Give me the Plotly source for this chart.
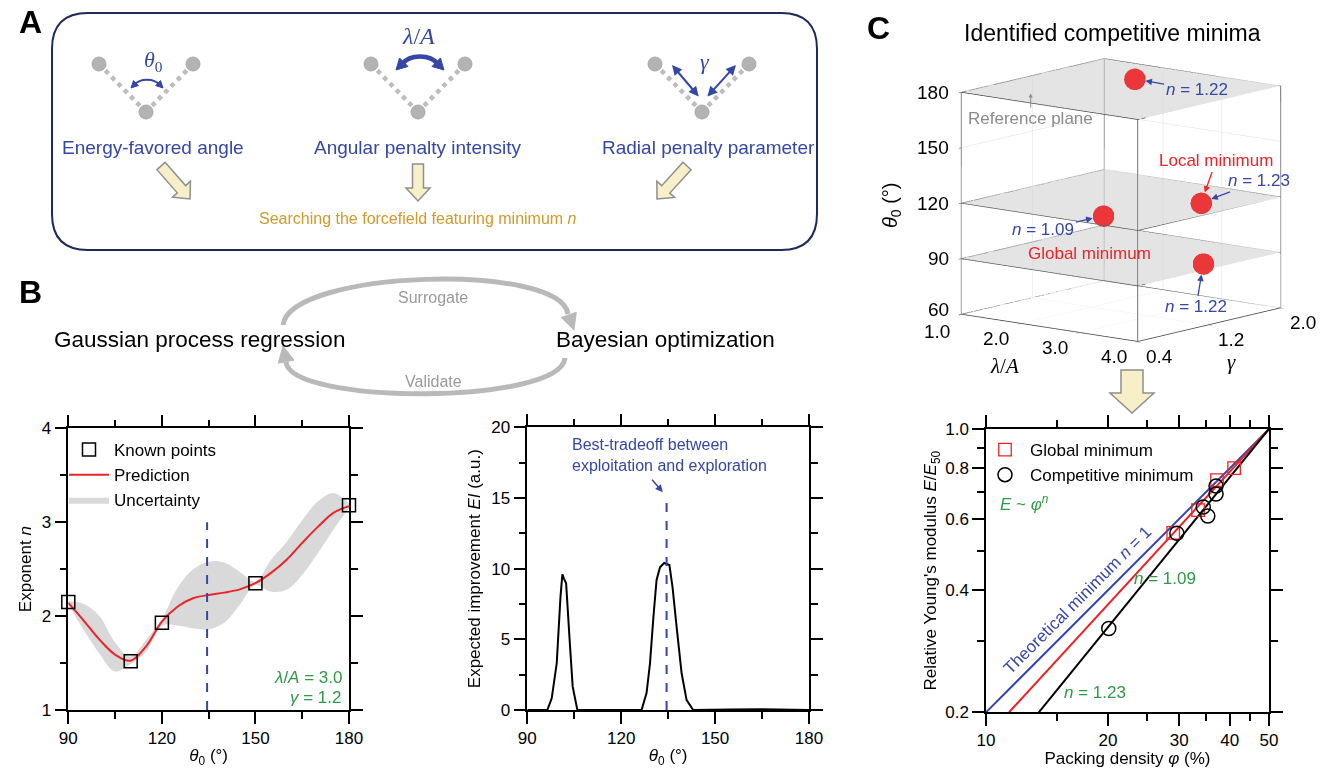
import math
import plotly.graph_objects as go

W, H = 1322, 768
FONT = "Liberation Sans, Arial, Helvetica, sans-serif"
SERIF = "Liberation Serif, DejaVu Serif, serif"
BLUE = "#3547a6"
GREEN = "#2f9a46"
RED = "#ec2327"
GOLD = "#d09a2c"
GREY = "#b9b9b9"
NAVY = "#1f2a5c"

# ---------------- data: panel B (left, GPR) ----------------
theta_known = [90, 110, 120, 150, 180]
n_known = [2.15, 1.52, 1.93, 2.35, 3.18]
theta_grid = [90, 95, 100, 105, 110, 115, 120, 125, 130, 135, 140, 145, 150, 155, 160, 165, 170, 175, 180]
n_pred = [2.14, 1.95, 1.75, 1.59, 1.525, 1.68, 1.94, 2.10, 2.19, 2.225, 2.25, 2.285, 2.35, 2.46, 2.60, 2.78, 2.95, 3.10, 3.17]
n_upper = [2.16, 2.13, 2.00, 1.72, 1.57, 1.75, 1.97, 2.30, 2.50, 2.58, 2.57, 2.47, 2.37, 2.60, 2.79, 3.02, 3.22, 3.31, 3.20]
n_lower = [2.12, 1.85, 1.60, 1.41, 1.49, 1.62, 1.90, 1.90, 1.87, 1.86, 1.93, 2.12, 2.33, 2.26, 2.28, 2.44, 2.67, 2.92, 3.15]
theta_next = 134.5
n_dash_top = 3.0

# ---------------- data: panel B (right, EI) ----------------
theta_ei = [90, 96.4, 97.8, 99.4, 100.6, 101.2, 101.7, 102.4, 103.6, 104.5, 106, 126.5, 128.1, 129.2, 130.3,
            131.3, 132.4, 133.7, 135.4, 136.4, 137.7, 139.3, 140.9, 143, 155, 165, 180]
ei = [0, 0, 0.83, 3.3, 8.0, 9.6, 9.3, 8.96, 4.7, 1.65, 0, 0, 1.2, 3.3, 6.6,
      9.2, 10.1, 10.4, 10.26, 8.7, 5.9, 2.6, 0.7, 0, 0.03, 0.05, 0]
ei_dash_top = 15

# ---------------- data: panel C (3D minima) ----------------
lam_min = [2.2, 3.45, 2.2, 3.7]
gam_min = [1.55, 1.47, 1.2, 1.33]
th_min = [180, 120, 110, 90]
n_min = [1.22, 1.23, 1.09, 1.22]
plane_levels = [90, 120, 180]
lam_rng = [1, 4]
gam_rng = [0.4, 2.0]
th_rng = [60, 180]
lam_ticks = [1, 2, 3, 4]
lam_ticktext = ["1.0", "2.0", "3.0", "4.0"]
gam_ticks = [0.4, 1.2, 2.0]
gam_ticktext = ["0.4", "1.2", "2.0"]
th_ticks = [60, 90, 120, 150, 180]

# ---------------- data: panel C (scaling) ----------------
phi_global = [29.0, 33.4, 37.2, 41.0]
E_global = [0.554, 0.631, 0.748, 0.801]
phi_comp = [20.1, 29.6, 34.4, 35.3, 37.0, 37.0]
E_comp = [0.322, 0.553, 0.642, 0.610, 0.691, 0.723]
fit_E = [0.2, 1.0]
fit_phi_n1 = [10.0, 50.0]
fit_phi_n109 = [11.4, 50.0]
fit_phi_n123 = [13.5, 50.0]


def X(px):
    return px / W


def Y(py):
    return 1 - py / H


def path(pts, close=False):
    s = "M %.5f,%.5f" % (X(pts[0][0]), Y(pts[0][1]))
    for p in pts[1:]:
        s += " L %.5f,%.5f" % (X(p[0]), Y(p[1]))
    if close:
        s += " Z"
    return s


def cubic(p0, c1, c2, p1):
    return "M %.5f,%.5f C %.5f,%.5f %.5f,%.5f %.5f,%.5f" % (
        X(p0[0]), Y(p0[1]), X(c1[0]), Y(c1[1]), X(c2[0]), Y(c2[1]), X(p1[0]), Y(p1[1]))


def head(tip, dx, dy, L, Wd):
    n = math.hypot(dx, dy)
    ux, uy = dx / n, dy / n
    bx, by = tip[0] - ux * L, tip[1] - uy * L
    px, py = -uy, ux
    return path([tip, (bx + px * Wd / 2, by + py * Wd / 2), (bx - px * Wd / 2, by - py * Wd / 2)], close=True)


def block_arrow(x0, y0, x1, y1, sw, hw, hl):
    dx, dy = x1 - x0, y1 - y0
    L = math.hypot(dx, dy)
    ux, uy = dx / L, dy / L
    px, py = -uy, ux
    bx, by = x1 - ux * hl, y1 - uy * hl
    pts = [(x0 + px * sw / 2, y0 + py * sw / 2), (bx + px * sw / 2, by + py * sw / 2),
           (bx + px * hw / 2, by + py * hw / 2), (x1, y1),
           (bx - px * hw / 2, by - py * hw / 2), (bx - px * sw / 2, by - py * sw / 2),
           (x0 - px * sw / 2, y0 - py * sw / 2)]
    return path(pts, close=True)


shapes = []
annots = []


def txt(x, y, s, size=17, color="black", family=FONT, xanchor="center", yanchor="middle", angle=0, **kw):
    annots.append(dict(x=X(x), y=Y(y), xref="paper", yref="paper", text=s, showarrow=False,
                       font=dict(size=size, color=color, family=family), xanchor=xanchor, yanchor=yanchor,
                       textangle=angle, **kw))


def pshape(p, fill=None, line="black", width=1.5):
    d = dict(type="path", path=p, xref="paper", yref="paper", line=dict(color=line, width=width))
    if fill:
        d["fillcolor"] = fill
    shapes.append(d)


# ---------------- panel A ----------------
txt(30, 22, "<b>A</b>", size=32)
r = 36
bx0, by0, bx1, by1 = 52, 13, 817, 250
box = ("M %.5f,%.5f L %.5f,%.5f Q %.5f,%.5f %.5f,%.5f L %.5f,%.5f Q %.5f,%.5f %.5f,%.5f "
       "L %.5f,%.5f Q %.5f,%.5f %.5f,%.5f L %.5f,%.5f Q %.5f,%.5f %.5f,%.5f Z") % (
    X(bx0 + r), Y(by0), X(bx1 - r), Y(by0), X(bx1), Y(by0), X(bx1), Y(by0 + r),
    X(bx1), Y(by1 - r), X(bx1), Y(by1), X(bx1 - r), Y(by1),
    X(bx0 + r), Y(by1), X(bx0), Y(by1), X(bx0), Y(by1 - r),
    X(bx0), Y(by0 + r), X(bx0), Y(by0), X(bx0 + r), Y(by0))
pshape(box, line=NAVY, width=2)

for cx in [146, 418, 702]:
    for (ax_, ay_) in [(cx - 47, 64), (cx + 47, 64)]:
        shapes.append(dict(type="line", xref="paper", yref="paper", x0=X(ax_), y0=Y(ay_), x1=X(cx), y1=Y(112),
                           line=dict(color="#bdbdbd", width=4.5, dash="dot")))
    for (ax_, ay_) in [(cx - 47, 64), (cx + 47, 64), (cx, 112)]:
        shapes.append(dict(type="circle", xref="paper", yref="paper", x0=X(ax_ - 7), x1=X(ax_ + 7),
                           y0=Y(ay_ + 7), y1=Y(ay_ - 7), fillcolor="#b3b3b3", line=dict(color="#a8a8a8", width=1)))

# icon 1: theta0 double curved arrow
pshape(cubic((134, 85), (140, 78), (154, 78), (160, 85)), line=BLUE, width=2)
pshape(head((131, 88), -0.7, 0.7, 7, 7), fill=BLUE, line=BLUE, width=1)
pshape(head((163, 88), 0.7, 0.7, 7, 7), fill=BLUE, line=BLUE, width=1)
txt(153, 61, "<i>θ</i><sub>0</sub>", size=22, color=BLUE, family=SERIF)
# icon 2: lambda/A thick arrow
pshape(cubic((402, 64), (410, 54), (430, 54), (438, 64)), line=BLUE, width=4.5)
pshape(head((396, 70), -0.7, 0.7, 11, 12), fill=BLUE, line=BLUE, width=1)
pshape(head((444, 70), 0.7, 0.7, 11, 12), fill=BLUE, line=BLUE, width=1)
txt(418, 36, "<i>λ</i>/<i>A</i>", size=24, color=BLUE, family=SERIF)
# icon 3: gamma straight arrows
for (hx, hy, tx_, ty_) in [(672, 65, 700, 98), (736, 65, 706, 98)]:
    annots.append(dict(x=X(hx), y=Y(hy), xref="paper", yref="paper", ax=tx_ - hx, ay=ty_ - hy, text="",
                       showarrow=True, arrowhead=2, startarrowhead=2, arrowside="end+start",
                       arrowcolor=BLUE, arrowwidth=2, arrowsize=1, startarrowsize=1))
txt(705, 62, "<i>γ</i>", size=22, color=BLUE, family=SERIF)

txt(153, 147, "Energy-favored angle", size=19, color=BLUE)
txt(418, 147, "Angular penalty intensity", size=19, color=BLUE)
txt(708, 147, "Radial penalty parameter", size=19, color=BLUE)
AFILL = "#f6efc8"
AEDGE = "#8f8f8f"
pshape(block_arrow(161, 166, 190, 199, 11, 24, 13), fill=AFILL, line=AEDGE, width=1.5)
pshape(block_arrow(418, 164, 418, 201, 11, 24, 13), fill=AFILL, line=AEDGE, width=1.5)
pshape(block_arrow(687, 166, 657, 199, 11, 24, 13), fill=AFILL, line=AEDGE, width=1.5)
txt(418, 218, "Searching the forcefield featuring minimum <i>n</i>", size=16, color=GOLD)

# ---------------- panel B top ----------------
txt(30, 292, "<b>B</b>", size=32)
txt(199, 340, "Gaussian process regression", size=22.5)
txt(665, 340, "Bayesian optimization", size=22.5)
txt(433, 297, "Surrogate", size=16, color="#9a9a9a")
txt(433, 382, "Validate", size=16, color="#9a9a9a")
pshape(cubic((283, 325), (290, 270), (560, 262), (568, 314)), line=GREY, width=5)
pshape(head((574, 330), 0.35, 1, 16, 16), fill=GREY, line=GREY, width=1)
pshape(cubic((565, 358), (560, 405), (290, 405), (286, 362)), line=GREY, width=5)
pshape(head((283, 346), -0.2, -1, 16, 16), fill=GREY, line=GREY, width=1)

# ---------------- panel C labels ----------------
txt(878, 28, "<b>C</b>", size=32)
txt(1112, 33, "Identified competitive minima", size=23)
pshape(block_arrow(1132, 370, 1132, 413, 22, 44, 20), fill=AFILL, line=AEDGE, width=1.5)
txt(1004, 366, "<i>λ</i>/<i>A</i>", size=21, family=SERIF)
txt(1231, 362, "<i>γ</i>", size=21, family=SERIF)
txt(892, 205, "<i>θ</i><sub>0</sub> (°)", size=20, angle=-90)

fig = go.Figure()

# --- B1 ---
fig.add_trace(go.Scatter(x=theta_grid, y=n_lower, mode="lines", line=dict(width=0, shape="spline"),
                         showlegend=False, xaxis="x", yaxis="y", hoverinfo="skip"))
fig.add_trace(go.Scatter(x=theta_grid, y=n_upper, mode="lines", line=dict(width=0, shape="spline"),
                         fill="tonexty", fillcolor="#d9d9d9", name="Uncertainty", legendrank=3,
                         xaxis="x", yaxis="y", legend="legend"))
fig.add_trace(go.Scatter(x=theta_grid, y=n_pred, mode="lines", line=dict(color=RED, width=2, shape="spline"),
                         name="Prediction", legendrank=2, xaxis="x", yaxis="y", legend="legend"))
fig.add_trace(go.Scatter(x=[theta_next, theta_next], y=[1, n_dash_top], mode="lines",
                         line=dict(color=BLUE, width=2, dash="dash"), showlegend=False, xaxis="x", yaxis="y"))
fig.add_trace(go.Scatter(x=theta_known, y=n_known, mode="markers", cliponaxis=False,
                         marker=dict(symbol="square-open", size=13, color="black", line=dict(width=1.5)),
                         name="Known points", legendrank=1, xaxis="x", yaxis="y", legend="legend"))

# --- B2 ---
fig.add_trace(go.Scatter(x=theta_ei, y=ei, mode="lines", line=dict(color="black", width=2),
                         showlegend=False, xaxis="x2", yaxis="y2"))
fig.add_trace(go.Scatter(x=[theta_next, theta_next], y=[0, ei_dash_top], mode="lines",
                         line=dict(color=BLUE, width=2, dash="dash"), showlegend=False, xaxis="x2", yaxis="y2"))

# --- C2 ---
for xs, col in [(fit_phi_n1, BLUE), (fit_phi_n109, RED), (fit_phi_n123, "black")]:
    fig.add_trace(go.Scatter(x=xs, y=fit_E, mode="lines", line=dict(color=col, width=2),
                             showlegend=False, xaxis="x3", yaxis="y3"))
fig.add_trace(go.Scatter(x=phi_global, y=E_global, mode="markers",
                         marker=dict(symbol="square-open", size=12.5, color=RED, line=dict(width=1.3)),
                         name="Global minimum", xaxis="x3", yaxis="y3", legend="legend2"))
fig.add_trace(go.Scatter(x=phi_comp, y=E_comp, mode="markers",
                         marker=dict(symbol="circle-open", size=14, color="black", line=dict(width=1.5)),
                         name="Competitive minimum", xaxis="x3", yaxis="y3", legend="legend2"))

# --- C1 (3D) ---
for lv in plane_levels:
    fig.add_trace(go.Surface(x=lam_rng, y=gam_rng, z=[[lv, lv], [lv, lv]], surfacecolor=[[0, 0], [0, 0]],
                             colorscale=[[0, "#d2d2d2"], [1, "#d2d2d2"]], cmin=0, cmax=1, showscale=False,
                             opacity=0.6, lighting=dict(ambient=1, diffuse=0, specular=0, fresnel=0),
                             hoverinfo="skip", scene="scene"))
    fig.add_trace(go.Scatter3d(x=[lam_rng[0], lam_rng[1], lam_rng[1], lam_rng[0], lam_rng[0]],
                               y=[gam_rng[0], gam_rng[0], gam_rng[1], gam_rng[1], gam_rng[0]],
                               z=[lv] * 5, mode="lines", line=dict(color="#555555", width=1.5),
                               showlegend=False, hoverinfo="skip", scene="scene"))
ex, ey, ez = [], [], []
for a in lam_rng:
    for b in gam_rng:
        ex += [a, a, None]; ey += [b, b, None]; ez += [th_rng[0], th_rng[1], None]
for c in th_rng:
    for a in lam_rng:
        ex += [a, a, None]; ey += [gam_rng[0], gam_rng[1], None]; ez += [c, c, None]
    for b in gam_rng:
        ex += [lam_rng[0], lam_rng[1], None]; ey += [b, b, None]; ez += [c, c, None]
fig.add_trace(go.Scatter3d(x=ex, y=ey, z=ez, mode="lines", line=dict(color="#444444", width=1.5),
                           showlegend=False, hoverinfo="skip", scene="scene"))
fig.add_trace(go.Scatter3d(x=lam_min, y=gam_min, z=th_min, mode="markers",
                           marker=dict(size=12.5, color=RED, opacity=0.9, line=dict(width=0)),
                           showlegend=False, hoverinfo="skip", scene="scene"))


def ax2d(**kw):
    d = dict(showline=True, linecolor="black", linewidth=1.5, mirror="allticks", ticks="outside",
             ticklen=12, tickwidth=1.5, tickcolor="black", showgrid=False, zeroline=False, automargin=False,
             tickfont=dict(size=17, family=FONT, color="black"))
    d.update(kw)
    return d


MINOR = dict(ticks="outside", ticklen=7, tickwidth=1.5, tickcolor="black")

theta_title = dict(text="<i>θ</i><sub>0</sub> (°)", font=dict(size=17, family=FONT), standoff=4)

ax3d = dict(showbackground=False, gridcolor="#dedede", gridwidth=1, showline=False, zeroline=False,
            showspikes=False, title=dict(text=""), showticklabels=False,
            ticks="outside", ticklen=4, tickcolor="#444")

sann = []


def s_ann(i, text, ax, ay, color=BLUE, standoff=11):
    sann.append(dict(x=lam_min[i], y=gam_min[i], z=th_min[i], text=text, showarrow=True, ax=ax, ay=ay,
                     arrowcolor=color, arrowhead=2, arrowsize=1, arrowwidth=1.3, standoff=standoff,
                     font=dict(size=17, color=color, family=FONT)))


s_ann(0, "<i>n</i> = 1.22", 62, 11)
s_ann(1, "<i>n</i> = 1.23", 58, -22)
s_ann(1, "Local minimum", 15, -42, color=RED)
s_ann(2, "<i>n</i> = 1.09", -60, 14)
s_ann(2, "Global minimum", -14, 38, color=RED)
s_ann(3, "<i>n</i> = 1.22", -7, 43)
sann.append(dict(x=1.77, y=0.67, z=180, text="Reference plane", showarrow=True, ax=0, ay=25,
                 arrowcolor="#8a8a8a", arrowhead=2, arrowsize=0.8, arrowwidth=1, standoff=0,
                 font=dict(size=17, color="#8a8a8a", family=FONT)))
# 3D tick labels (kept horizontal)
TF = dict(size=19, family=FONT, color="black")
for v, t in zip(lam_ticks, lam_ticktext):
    sann.append(dict(x=v, y=gam_rng[0], z=th_rng[0], text=t, showarrow=False, xshift=-24,
                     yshift=(-17 if v == lam_rng[0] else -15), font=TF))
for v, t in zip(gam_ticks, gam_ticktext):
    sann.append(dict(x=lam_rng[1], y=v, z=th_rng[0], text=t, showarrow=False, xshift=22, yshift=-15, font=TF))
for v in th_ticks:
    sann.append(dict(x=lam_rng[0], y=gam_rng[0], z=v, text=str(v), showarrow=False, xanchor="right",
                     xshift=-10, yshift=(5 if v == th_rng[0] else 0), font=TF))

# in-plot annotations
txt(344, 677, "<i>λ</i>/<i>A</i> = 3.0", size=17, color=GREEN, xanchor="right")
txt(344, 697, "<i>γ</i> = 1.2", size=17, color=GREEN, xanchor="right")
annots.append(dict(x=0.15, y=0.975, xref="x2 domain", yref="y2 domain",
                   text="Best-tradeoff between<br>exploitation and exploration", showarrow=False,
                   xanchor="left", yanchor="top", align="left", font=dict(size=16, color=BLUE, family=FONT)))
annots.append(dict(x=133.3, y=15.4, xref="x2", yref="y2", ax=-12, ay=-14, text="", showarrow=True,
                   arrowcolor=BLUE, arrowhead=2, arrowwidth=1.5, arrowsize=1))
txt(1024, 503, "<i>E</i> ~ <i>φ</i><sup><i>n</i></sup>", size=17, color=GREEN)
txt(1077, 600, "Theoretical minimum <i>n</i> = 1", size=17, color=BLUE, angle=-45)
txt(1165, 578, "<i>n</i> = 1.09", size=17, color=GREEN)
txt(1095, 692, "<i>n</i> = 1.23", size=17, color=GREEN)

lam3 = math.radians(51)
el3 = math.radians(11)
dist3 = 2.0
asp = 1.42

fig.update_layout(
    width=W, height=H, margin=dict(l=0, r=0, t=0, b=0, pad=0, autoexpand=False),
    paper_bgcolor="white", plot_bgcolor="rgba(0,0,0,0)",
    font=dict(family=FONT, color="black"), hovermode=False,
    xaxis=ax2d(domain=[X(68.3), X(349)], range=[90, 180], tickvals=[90, 120, 150, 180],
               minor=dict(MINOR, dtick=15, tick0=90), title=theta_title, anchor="y"),
    yaxis=ax2d(domain=[Y(710), Y(428.3)], range=[1, 4], tickvals=[1, 2, 3, 4],
               minor=dict(MINOR, dtick=0.5, tick0=1),
               title=dict(text="Exponent <i>n</i>", font=dict(size=17, family=FONT), standoff=6), anchor="x"),
    xaxis2=ax2d(domain=[X(527.3), X(809)], range=[90, 180], tickvals=[90, 120, 150, 180],
                minor=dict(MINOR, dtick=15, tick0=90), title=theta_title, anchor="y2"),
    yaxis2=ax2d(domain=[Y(710), Y(427.3)], range=[0, 20], tickvals=[0, 5, 10, 15, 20],
                minor=dict(MINOR, dtick=2.5, tick0=0),
                title=dict(text="Expected improvement <i>EI</i> (a.u.)", font=dict(size=17, family=FONT), standoff=6),
                anchor="x2"),
    xaxis3=ax2d(domain=[X(986), X(1269)], type="log", range=[1, math.log10(50)], tickvals=[10, 20, 30, 40, 50],
                ticktext=["10", "20", "30", "40", "50"], minor=dict(MINOR, tickvals=[15, 25, 35, 45]),
                title=dict(text="Packing density <i>φ</i> (%)", font=dict(size=17, family=FONT), standoff=2),
                anchor="y3"),
    yaxis3=ax2d(domain=[Y(712.3), Y(429)], type="log", range=[math.log10(0.2), 0],
                tickvals=[0.2, 0.4, 0.6, 0.8, 1.0], ticktext=["0.2", "0.4", "0.6", "0.8", "1.0"],
                minor=dict(MINOR, tickvals=[0.3, 0.5, 0.7, 0.9]),
                title=dict(text="Relative Young's modulus <i>E</i>/<i>E</i><sub>50</sub>",
                           font=dict(size=17, family=FONT), standoff=4), anchor="x3"),
    scene=dict(domain=dict(x=[X(920), X(1322)], y=[Y(360), Y(40)]), aspectmode="manual",
               aspectratio=dict(x=asp, y=asp, z=asp),
               camera=dict(projection=dict(type="orthographic"), up=dict(x=0, y=0, z=1),
                           center=dict(x=0, y=0, z=0),
                           eye=dict(x=dist3 * math.cos(el3) * math.cos(lam3),
                                    y=-dist3 * math.cos(el3) * math.sin(lam3),
                                    z=dist3 * math.sin(el3))),
               xaxis=dict(ax3d, range=lam_rng, tickvals=lam_ticks),
               yaxis=dict(ax3d, range=gam_rng, tickvals=gam_ticks),
               zaxis=dict(ax3d, range=[th_rng[0] - 0.3, th_rng[1] + 0.3], tickvals=th_ticks),
               annotations=sann),
    legend=dict(x=X(64), y=Y(432), xanchor="left", yanchor="top", bgcolor="rgba(0,0,0,0)",
                font=dict(size=17, family=FONT), itemwidth=40, tracegroupgap=0, traceorder="normal"),
    legend2=dict(x=X(980), y=Y(432), xanchor="left", yanchor="top", bgcolor="rgba(0,0,0,0)",
                 font=dict(size=17, family=FONT), itemwidth=40),
    shapes=shapes, annotations=annots,
)

fig.write_html("out.html", config={"displayModeBar": False},
               post_script="document.body.style.margin='0';document.body.style.padding='0';")
